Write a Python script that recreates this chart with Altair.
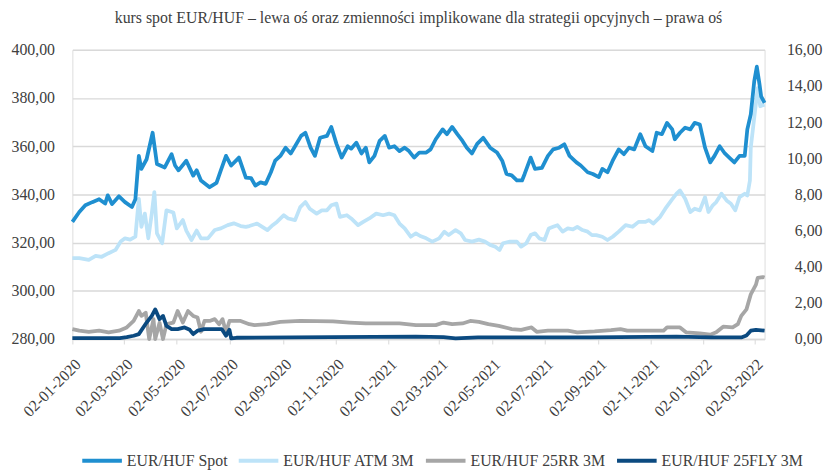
import altair as alt
import pandas as pd

# ---------------- data ----------------
series_names = ["EUR/HUF Spot", "EUR/HUF ATM 3M", "EUR/HUF 25RR 3M", "EUR/HUF 25FLY 3M"]
series_colors = ["#1f8fd0", "#bde3f8", "#a6a6a6", "#0b4a80"]
start_date = "2020-01-02"
end_date = "2022-03-14"
tick_dates = ["2020-01-02", "2020-03-02", "2020-05-02", "2020-07-02", "2020-09-02",
              "2020-11-02", "2021-01-02", "2021-03-02", "2021-05-02", "2021-07-02",
              "2021-09-02", "2021-11-02", "2022-01-02", "2022-03-02"]
left_ticks = [280, 300, 320, 340, 360, 380, 400]
right_ticks = [0, 2, 4, 6, 8, 10, 12, 14, 16]

# day offsets from 2020-01-02
spot_days = [0, 8, 15, 23, 31, 38, 41, 46, 54, 61, 69, 73, 77, 80, 86, 93, 98, 107, 115, 119,
             123, 132, 140, 144, 149, 159, 167, 172, 178, 184, 193, 201, 207, 212, 218, 224, 230,
             235, 241, 247, 253, 258, 265, 270, 276, 281, 287, 295, 300, 306, 312, 319, 323, 329,
             335, 340, 344, 350, 356, 362, 367, 373, 379, 385, 390, 396, 402, 410, 415, 421, 429,
             434, 440, 446, 452, 457, 463, 469, 476, 484, 492, 498, 503, 509, 515, 521, 524, 531,
             536, 544, 551, 557, 564, 570, 576, 584, 589, 597, 603, 610, 614, 620, 626, 633, 639,
             645, 651, 658, 664, 672, 677, 683, 689, 695, 698, 704, 710, 716, 721, 727, 733, 739,
             744, 750, 756, 762, 767, 773, 779, 782, 786, 790, 793, 796, 798, 802]
spot_vals = [328.6, 332.7, 335.5, 336.8, 338.0, 336.2, 339.6, 336.0, 339.2, 336.8, 334.8, 338.0,
             356.0, 350.6, 354.6, 365.6, 352.6, 351.2, 356.7, 352.0, 350.0, 354.0, 347.8, 350.0,
             345.8, 343.0, 344.8, 350.0, 356.0, 352.0, 355.3, 347.0, 346.8, 343.7, 345.0, 344.4,
             349.2, 354.0, 356.0, 359.4, 357.0, 360.0, 364.3, 365.6, 359.4, 356.0, 363.5, 364.3,
             368.0, 361.0, 355.3, 360.0, 359.0, 361.5, 357.0, 359.4, 353.3, 356.0, 362.2, 364.3,
             359.4, 360.0, 358.0, 359.4, 358.0, 355.3, 357.4, 357.4, 358.7, 362.9, 367.0, 365.0,
             368.0, 365.0, 362.2, 359.4, 357.0, 361.0, 363.5, 359.4, 357.4, 354.0, 348.5, 347.9,
             345.8, 345.8, 348.5, 355.3, 350.6, 351.0, 356.0, 358.7, 359.4, 360.8, 356.0, 353.3,
             352.0, 349.2, 348.5, 347.2, 350.6, 349.2, 354.0, 358.7, 356.7, 359.4, 358.7, 365.0,
             360.0, 358.0, 365.6, 365.0, 369.7, 367.0, 362.9, 365.6, 367.7, 367.0, 369.7, 369.0,
             359.4, 353.3, 356.0, 360.0, 357.0, 355.0, 353.3, 356.0, 356.0, 367.0, 373.2, 386.9,
             393.0, 386.0, 380.7, 378.0]

atm_days = [0, 8, 19, 27, 34, 42, 50, 56, 61, 67, 73, 77, 80, 84, 88, 92, 95, 98, 104, 109,
            117, 121, 128, 132, 138, 144, 149, 157, 165, 172, 180, 187, 195, 201, 205, 214, 220,
            226, 232, 237, 245, 250, 258, 264, 270, 275, 283, 289, 295, 300, 306, 310, 318, 323,
            331, 337, 344, 352, 360, 367, 373, 379, 385, 392, 398, 403, 410, 417, 425, 431, 436,
            444, 450, 455, 463, 471, 478, 484, 490, 495, 499, 507, 515, 520, 526, 531, 536, 541,
            547, 552, 557, 562, 568, 574, 580, 585, 591, 597, 602, 607, 614, 620, 626, 633, 641,
            649, 656, 664, 668, 673, 681, 687, 694, 700, 704, 710, 716, 721, 727, 733, 737, 742,
            746, 752, 758, 763, 768, 773, 779, 782, 785, 786, 790, 794, 797, 802]
atm_vals = [4.48, 4.48, 4.38, 4.6, 4.55, 4.75, 4.93, 5.39, 5.57, 5.5, 5.66, 7.76, 6.21, 6.94,
            5.57, 6.94, 8.13, 5.85, 5.3, 7.12, 7.0, 6.12, 6.58, 6.0, 5.48, 6.0, 5.57, 5.57, 6.03,
            6.12, 6.3, 6.4, 6.25, 6.21, 6.25, 6.39, 6.21, 6.03, 6.3, 6.48, 6.85, 6.67, 6.58, 7.3,
            7.58, 7.21, 6.94, 7.12, 7.12, 7.4, 7.49, 6.76, 6.85, 6.67, 6.3, 6.48, 6.67, 6.94, 6.85,
            6.94, 6.85, 6.39, 6.12, 5.66, 5.85, 5.7, 5.57, 5.39, 5.57, 5.94, 5.75, 6.03, 5.85,
            5.48, 5.39, 5.5, 5.39, 5.21, 5.11, 4.93, 5.3, 5.39, 5.39, 5.11, 5.3, 5.75, 5.85, 5.57,
            5.48, 6.12, 6.21, 6.3, 5.94, 6.12, 6.07, 6.21, 6.03, 5.94, 5.75, 5.75, 5.66, 5.48,
            5.66, 5.94, 6.3, 6.21, 6.48, 6.48, 6.58, 6.39, 6.76, 7.21, 7.67, 8.04, 8.22, 7.76,
            7.03, 7.21, 7.12, 7.85, 7.03, 7.4, 7.58, 8.04, 7.67, 7.49, 7.12, 7.85, 8.04, 7.94,
            8.77, 10.59, 12.24, 13.88, 12.88, 12.97]

rr_days = [0, 8, 19, 31, 42, 54, 63, 71, 77, 80, 85, 89, 94, 96, 101, 105, 109, 117, 122, 128,
           134, 140, 145, 149, 153, 159, 165, 170, 174, 178, 182, 195, 205, 211, 226, 241, 264,
           302, 321, 340, 379, 398, 421, 430, 440, 452, 461, 471, 482, 494, 509, 520, 532, 538,
           551, 574, 585, 605, 624, 635, 643, 666, 685, 689, 704, 711, 727, 739, 746, 754, 765,
           771, 775, 781, 786, 792, 794, 800, 802]
rr_vals = [0.55, 0.46, 0.4, 0.46, 0.37, 0.46, 0.64, 1.0, 1.55, 1.28, 1.46, 0.0, 1.1, 0.0, 0.9,
           0.0, 0.82, 0.91, 1.55, 0.91, 1.55, 1.28, 1.19, 0.4, 1.0, 1.0, 1.1, 0.82, 1.1, 0.37,
           1.0, 1.0, 0.82, 0.77, 0.82, 0.95, 1.0, 0.97, 0.91, 0.86, 0.86, 0.77, 0.77, 0.91, 0.82,
           0.86, 1.0, 0.95, 0.82, 0.73, 0.55, 0.51, 0.64, 0.4, 0.46, 0.46, 0.37, 0.42, 0.49, 0.55,
           0.46, 0.46, 0.46, 0.64, 0.64, 0.37, 0.31, 0.24, 0.37, 0.68, 0.64, 0.82, 1.28, 1.64,
           2.47, 3.01, 3.38, 3.43, 3.4]

fly_days = [0, 55, 63, 71, 77, 86, 92, 96, 101, 105, 109, 115, 122, 130, 136, 140, 145, 153,
            165, 173, 178, 182, 184, 190, 300, 398, 430, 444, 470, 600, 700, 740, 775, 781, 786,
            792, 802]
fly_vals = [0.05, 0.05, 0.1, 0.18, 0.27, 0.91, 1.28, 1.64, 1.1, 1.28, 0.73, 0.55, 0.55, 0.64,
            0.51, 0.27, 0.46, 0.55, 0.55, 0.55, 0.18, 0.51, 0.04, 0.07, 0.1, 0.13, 0.1, 0.04,
            0.09, 0.09, 0.13, 0.09, 0.09, 0.2, 0.46, 0.51, 0.46]

# ---------------- tables ----------------
base = pd.Timestamp(start_date)


def frame(days, vals, name, order):
    return pd.DataFrame({
        "date": [(base + pd.Timedelta(days=d)).strftime("%Y-%m-%d") for d in days],
        "value": vals,
        "series": name,
        "order": order,
    })


spot_df = frame(spot_days, spot_vals, series_names[0], 0)
vol_df = pd.concat([
    frame(atm_days, atm_vals, series_names[1], 1),
    frame(rr_days, rr_vals, series_names[2], 2),
    frame(fly_days, fly_vals, series_names[3], 3),
], ignore_index=True)

FONT = "Liberation Serif"
TXT = "#404040"
GRID = "#d9d9d9"


def dt(s):
    y, m, d = (int(p) for p in s.split("-"))
    return alt.DateTime(year=y, month=m, date=d, utc=True)


x_enc = alt.X(
    "date:T",
    scale=alt.Scale(type="utc", domain=[dt(start_date), dt(end_date)]),
    axis=alt.Axis(
        values=[dt(s) for s in tick_dates], format="%d-%m-%Y", labelAngle=-45,
        labelOverlap=False, labelBound=False, labelFlush=False,
        title=None, grid=False, domainColor=GRID, domainWidth=1.5, tickColor=GRID,
        tickSize=5, labelFont=FONT, labelFontSize=16, labelColor=TXT, labelPadding=12,
    ),
)

color_enc = alt.Color(
    "series:N",
    scale=alt.Scale(domain=series_names, range=series_colors),
    legend=alt.Legend(
        title=None, orient="none", legendX=8, legendY=393, direction="horizontal",
        columns=4, symbolType="stroke", symbolSize=1600, symbolStrokeWidth=4,
        labelFont=FONT, labelFontSize=16, labelColor=TXT, labelOffset=3, columnPadding=3,
        labelLimit=300,
    ),
)

comma = "replace(format(datum.value, '.2f'), '.', ',')"

spot_layer = alt.Chart(spot_df).mark_line(strokeWidth=3.8, strokeJoin="round").encode(
    x=x_enc,
    y=alt.Y("value:Q", scale=alt.Scale(domain=[280, 400], nice=False, zero=False),
            axis=alt.Axis(values=left_ticks, labelExpr=comma, title=None, grid=True,
                          gridColor=GRID, gridWidth=1.5, domain=False, ticks=False,
                          labelFont=FONT, labelFontSize=16, labelColor=TXT, labelPadding=18)),
    color=color_enc,
    order="order:Q",
)

vol_layer = alt.Chart(vol_df).mark_line(strokeWidth=3.8, strokeJoin="round").encode(
    x=x_enc,
    y=alt.Y("value:Q", scale=alt.Scale(domain=[0, 16], nice=False),
            axis=alt.Axis(orient="right", values=right_ticks, labelExpr=comma, title=None,
                          grid=False, domain=False, ticks=False, labelAlign="right",
                          labelFont=FONT, labelFontSize=16, labelColor=TXT, labelPadding=58)),
    color=color_enc,
    detail="series:N",
)

chart = alt.layer(vol_layer, spot_layer).resolve_scale(y="independent").properties(
    width=699,
    height=292,
    padding={"left": 65, "top": 40, "right": 60, "bottom": 130},
    autosize=alt.AutoSizeParams(type="none"),
    title=alt.TitleParams(
        "kurs spot EUR/HUF – lewa oś oraz zmienności implikowane dla strategii opcyjnych – prawa oś",
        font=FONT, fontSize=16, fontWeight="normal", color=TXT, anchor="middle", offset=16,
    ),
).configure_view(stroke=None).configure(background="white")

chart.save("out.html", embed_options={"renderer": "svg", "actions": False})
